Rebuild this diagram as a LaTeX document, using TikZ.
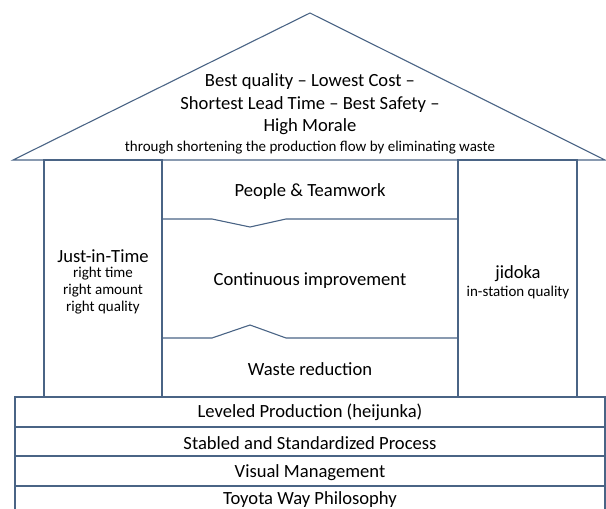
\documentclass[tikz,border=0pt]{standalone}
\usepackage{fontspec}
\setmainfont{Carlito}
\definecolor{houseline}{RGB}{74,100,133}
\tikzset{
    big/.style={font=\fontsize{18.6}{22.5}\selectfont, align=center, inner sep=0pt},
    small/.style={font=\fontsize{15}{17}\selectfont, align=center, inner sep=0pt}
}

\begin{document}
\begin{tikzpicture}[x=1pt,y=-1pt]
    \useasboundingbox (0,0) rectangle (606,509);
    % Draw roof
    \draw [houseline, line width=1.1pt, line join=miter] (13,160) -- (310,13) -- (605,160) -- cycle;
    % Draw pillars
    \draw [houseline, line width=1.1pt] (44,160) rectangle (162,397);
    \draw [houseline, line width=1.1pt] (458,160) rectangle (577,397);
    % Draw middle part with notches
    \draw [houseline, line width=1.1pt] (162,219) -- (212,219) -- (250,227) -- (286,219) -- (458,219);
    \draw [houseline, line width=1.1pt] (162,338) -- (212,338) -- (250,325) -- (286,338) -- (458,338);
    % Draw foundation
    \draw [houseline, line width=1.1pt] (15,512) |- (605,397) -- (605,512);
    \draw [houseline, line width=1.1pt] (15,427) -- (605,427);
    \draw [houseline, line width=1.1pt] (15,456) -- (605,456);
    \draw [houseline, line width=1.1pt] (15,486) -- (605,486);

    % Roof texts
    \node (goal) [big] at (310,104.5) {Best quality -- Lowest Cost --\\Shortest Lead Time -- Best Safety --\\High Morale};
    \node (flow) [small] at (310,147.5) {through shortening the production flow by eliminating waste};
    % Pillar texts
    \node (jit) [big] at (103,256) {Just-in-Time};
    \node (jitsub) [small] at (103,291) {right time\\right amount\\right quality};
    \node (jidoka) [big] at (518,273.5) {jidoka};
    \node (jidokasub) [small] at (518,292) {in-station quality};
    % Middle texts
    \node (people) [big] at (310,191.5) {People \& Teamwork};
    \node (kaizen) [big] at (310,281) {Continuous improvement};
    \node (waste) [big] at (310,369) {Waste reduction};
    % Foundation texts
    \node (heijunka) [big] at (310,412.5) {Leveled Production (heijunka)};
    \node (standard) [big] at (310,443) {Stabled and Standardized Process};
    \node (visual) [big] at (310,472.5) {Visual Management};
    \node (philosophy) [big] at (310,500) {Toyota Way Philosophy};
\end{tikzpicture}
\end{document}
